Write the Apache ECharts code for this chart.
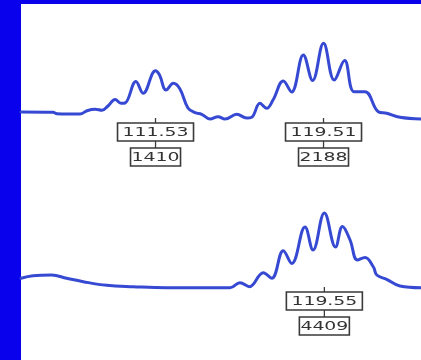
<!DOCTYPE html>
<html>
<head>
<meta charset="utf-8">
<script src="https://cdn.jsdelivr.net/npm/echarts@6/dist/echarts.min.js"></script>
<style>
  html, body { margin: 0; padding: 0; background: #0900ec; }
  #chart { width: 421px; height: 360px; }
</style>
</head>
<body>
<div id="chart"></div>
<script>
// Upper trace: m/z position and relative intensity
const upperMz = [105.14, 106.66, 106.85, 107.94, 108.28, 108.66, 108.99, 109.27, 109.61, 109.89,
  110.08, 110.60, 110.94, 111.53, 111.72, 112.03, 112.38, 112.69, 113.07, 113.41,
  113.72, 114.12, 114.50, 114.83, 115.39, 115.86, 116.10, 116.49, 116.81, 117.11,
  117.60, 117.99, 118.55, 118.99, 119.51, 120.02, 120.51, 120.96, 121.48, 122.11,
  122.51, 123.14, 124.14];
const upperIntensity = [18, 17.7, 16.3, 16, 19.3, 20.7, 19.7, 24, 30.5, 26.7,
  27, 48.5, 36.7, 59.3, 55, 40, 46.7, 41, 22, 17.3,
  15.7, 11, 13.3, 11, 15.7, 12, 12.7, 26.7, 21.7, 30,
  49, 38, 75, 49.5, 86.7, 50, 69.5, 38.3, 38.3, 18.3,
  16.7, 12.7, 11];

// Lower trace
const lowerMz = [105.14, 105.71, 106.60, 107.31, 108.10, 109.21, 110.47, 112.06, 115.07, 115.54,
  115.99, 116.65, 117.05, 117.60, 118.00, 118.63, 119.01, 119.55, 120.08, 120.41,
  120.77, 121.12, 121.48, 121.88, 122.04, 122.51, 123.14, 124.14];
const lowerIntensity = [20.7, 23.3, 24, 20.7, 17.3, 13.7, 12.3, 11.3, 11.3, 16.3,
  12.3, 26.3, 20.7, 48.3, 35.5, 72, 49, 86, 52, 72.5,
  59, 39, 41.5, 32, 24, 19.7, 13, 11.3];

// Peak annotations: centroid m/z and peak area
const upperPeakMz = [111.53, 119.51];
const upperPeakArea = [1410, 2188];
const lowerPeakMz = [119.55];
const lowerPeakArea = [4409];

const traceColor = '#3649d2';
const boxStroke = '#3a3a3a';
const textColor = '#333333';

function zip(xs, ys) { return xs.map((x, i) => [x, ys[i]]); }

// Two stacked boxes hanging below each peak: m/z on top, area below
function makeAnnotation(areas) {
  return function (params, api) {
    const p = api.coord([api.value(0), 0]);
    const cx = p[0];
    const t = p[1] - 12;
    const mzText = api.value(0).toFixed(2);
    const areaText = String(areas[params.dataIndex]);
    const w1 = 76, w2 = 50, h = 18;
    const textStyle = (txt) => ({
      text: txt,
      x: 0, y: 0,
      align: 'center',
      verticalAlign: 'middle',
      fill: textColor,
      font: '13px "DejaVu Sans"'
    });
    return {
      type: 'group',
      children: [
        { type: 'line', shape: { x1: cx, y1: t, x2: cx, y2: t + 30 },
          style: { stroke: boxStroke, lineWidth: 1.3 } },
        { type: 'rect', shape: { x: cx - w1 / 2, y: t + 5, width: w1, height: h },
          style: { fill: '#ffffff', stroke: boxStroke, lineWidth: 1.6 } },
        { type: 'text', x: cx, y: t + 5 + h / 2 + 0.5, scaleX: 1.45,
          style: textStyle(mzText) },
        { type: 'rect', shape: { x: cx - w2 / 2, y: t + 30, width: w2, height: h },
          style: { fill: '#ffffff', stroke: boxStroke, lineWidth: 1.6 } },
        { type: 'text', x: cx, y: t + 30 + h / 2 + 0.5, scaleX: 1.45,
          style: textStyle(areaText) }
      ]
    };
  };
}

const chart = echarts.init(document.getElementById('chart'), null, { renderer: 'canvas' });

const axisX = (gi) => ({ type: 'value', gridIndex: gi, min: 105.14, max: 124.14, show: false });
const axisY = (gi) => ({ type: 'value', gridIndex: gi, min: 0, max: 120, show: false });

const lineSeries = (gi, data) => ({
  type: 'line',
  xAxisIndex: gi, yAxisIndex: gi,
  data: data,
  smooth: 0.4,
  symbol: 'none',
  lineStyle: { color: traceColor, width: 3, cap: 'round', join: 'round' },
  silent: true,
  z: 3
});

chart.setOption({
  animation: false,
  backgroundColor: '#0900ec',
  graphic: [{
    type: 'rect', left: 21, top: 4, z: -10,
    shape: { width: 400, height: 356 },
    style: { fill: '#ffffff' }
  }],
  grid: [
    { left: 21, right: 0, top: 10, height: 120 },
    { left: 21, right: 0, top: 179, height: 120 }
  ],
  xAxis: [axisX(0), axisX(1)],
  yAxis: [axisY(0), axisY(1)],
  series: [
    lineSeries(0, zip(upperMz, upperIntensity)),
    lineSeries(1, zip(lowerMz, lowerIntensity)),
    {
      type: 'custom', xAxisIndex: 0, yAxisIndex: 0,
      renderItem: makeAnnotation(upperPeakArea),
      data: upperPeakMz.map(m => [m, 0]),
      clip: false, silent: true, z: 5
    },
    {
      type: 'custom', xAxisIndex: 1, yAxisIndex: 1,
      renderItem: makeAnnotation(lowerPeakArea),
      data: lowerPeakMz.map(m => [m, 0]),
      clip: false, silent: true, z: 5
    }
  ]
});
</script>
</body>
</html>
